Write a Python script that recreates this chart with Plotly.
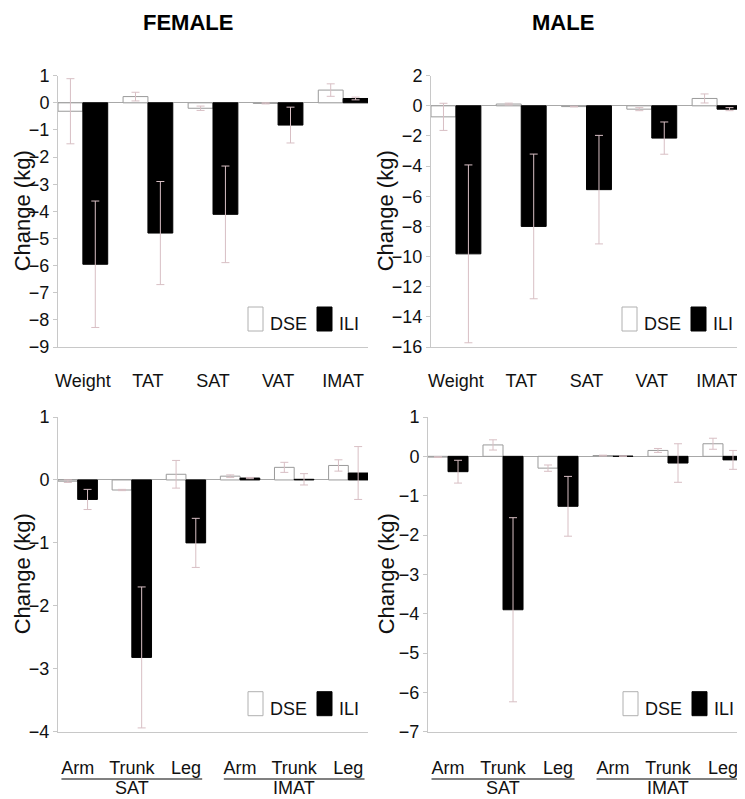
import plotly.graph_objects as go

# the page body adds an 8px margin, so page pixels are mapped into the figure with OFF
OFF = 8
W, H = 745 - OFF, 799 - OFF
FONT = 'Liberation Sans, Arial, sans-serif'
ERR_COLOR = '#d8bfc4'
AXIS_COLOR = '#c8c8c8'

# top panels: whole-body compartments
cats = ['Weight', 'TAT', 'SAT', 'VAT', 'IMAT']
f_dse = [-0.31, 0.23, -0.2, -0.02, 0.47]
f_dse_err = [1.2, 0.16, 0.08, 0.02, 0.23]
f_ili = [-5.95, -4.8, -4.11, -0.82, 0.16]
f_ili_err = [2.33, 1.9, 1.78, 0.66, 0.05]

m_dse = [-0.73, 0.12, -0.05, -0.22, 0.49]
m_dse_err = [0.9, 0.06, 0.02, 0.1, 0.3]
m_ili = [-9.82, -8.0, -5.56, -2.14, -0.22]
m_ili_err = [5.9, 4.8, 3.6, 1.07, 0.1]

# bottom panels: regional depots
groups = ['SAT', 'SAT', 'SAT', 'IMAT', 'IMAT', 'IMAT']
regions = ['Arm', 'Trunk', 'Leg', 'Arm', 'Trunk', 'Leg']
reg_keys = [g + ' ' + r for g, r in zip(groups, regions)]

f_reg_dse = [-0.02, -0.16, 0.09, 0.06, 0.2, 0.23]
f_reg_dse_err = [0.02, 0.01, 0.22, 0.02, 0.08, 0.09]
f_reg_ili = [-0.31, -2.82, -1.0, 0.03, 0.01, 0.11]
f_reg_ili_err = [0.16, 1.12, 0.39, 0.01, 0.09, 0.42]

m_reg_dse = [-0.02, 0.29, -0.3, 0.02, 0.15, 0.32]
m_reg_dse_err = [0.01, 0.13, 0.08, 0.01, 0.05, 0.14]
m_reg_ili = [-0.39, -3.9, -1.27, 0.005, -0.17, -0.09]
m_reg_ili_err = [0.29, 2.34, 0.76, 0.0, 0.49, 0.24]


def px(x):
    return (x - OFF) / W


def py(y):
    return 1 - (y - OFF) / H


# panel boxes in page pixels: left, right, top, bottom
panels = {
    1: (58, 368, 75.7, 347),
    2: (431, 742, 75.7, 347),
    3: (58, 368, 417, 731.7),
    4: (428, 743, 417, 731.7),
}
# x centre of the rotated "Change (kg)" title for each panel
ytitle_x = {1: 22, 2: 385, 3: 22, 4: 386}
# half of the DSE+ILI pair width, in category units
half = {1: 0.382, 2: 0.382, 3: 0.364, 4: 0.364}


def add_pair(fig, n, x, dse, dse_err, ili, ili_err):
    xa = 'x' if n == 1 else f'x{n}'
    ya = 'y' if n == 1 else f'y{n}'
    w = half[n]
    fig.add_trace(go.Bar(x=x, y=dse, name='DSE', xaxis=xa, yaxis=ya, width=w, offset=-w,
                         marker=dict(color='white', line=dict(color='#9a9a9a', width=1)),
                         error_y=dict(type='data', array=dse_err, color=ERR_COLOR, thickness=1, width=4),
                         showlegend=False))
    fig.add_trace(go.Bar(x=x, y=ili, name='ILI', xaxis=xa, yaxis=ya, width=w, offset=0,
                         marker=dict(color='black', line=dict(color='black', width=1)),
                         error_y=dict(type='data', array=ili_err, color=ERR_COLOR, thickness=1, width=4),
                         showlegend=False))


fig = go.Figure()
add_pair(fig, 1, cats, f_dse, f_dse_err, f_ili, f_ili_err)
add_pair(fig, 2, cats, m_dse, m_dse_err, m_ili, m_ili_err)
add_pair(fig, 3, reg_keys, f_reg_dse, f_reg_dse_err, f_reg_ili, f_reg_ili_err)
add_pair(fig, 4, reg_keys, m_reg_dse, m_reg_dse_err, m_reg_ili, m_reg_ili_err)

yranges = {1: ([-9, 1], 1), 2: ([-16, 2], 2), 3: ([-4, 1], 1), 4: ([-7, 1], 1)}

layout = dict(width=W, height=H, margin=dict(l=0, r=0, t=0, b=0),
              paper_bgcolor='white', plot_bgcolor='white',
              font=dict(family=FONT, color='#111111'),
              barmode='overlay', showlegend=False)

for n, (l, r, t, b) in panels.items():
    sx = '' if n == 1 else str(n)
    top_row = n in (1, 2)
    xax = dict(domain=[px(l), px(r)], anchor='y' + sx, automargin=False,
               showline=True, linecolor=AXIS_COLOR, linewidth=1,
               showgrid=False, zeroline=False, ticks='',
               tickfont=dict(size=18), ticklabelstandoff=17 if top_row else 20)
    if top_row:
        xax['range'] = [-0.382, 4.382]
    else:
        xax['range'] = [-0.364, 5.364]
        xax['tickmode'] = 'array'
        xax['tickvals'] = reg_keys
        xax['ticktext'] = regions
    rng, dt = yranges[n]
    yax = dict(domain=[py(b), py(t)], anchor='x' + sx, range=rng, dtick=dt,
               automargin=False,
               showline=True, linecolor=AXIS_COLOR, linewidth=1,
               ticks='outside', ticklen=4, tickcolor=AXIS_COLOR,
               showgrid=False, zeroline=True, zerolinecolor='#a8a8a8', zerolinewidth=1,
               tickfont=dict(size=18))
    layout['xaxis' + sx] = xax
    layout['yaxis' + sx] = yax

fig.update_layout(**layout)

# y titles, placed explicitly so they sit clear of the tick labels
for n, (l, r, t, b) in panels.items():
    fig.add_annotation(text='Change (kg)', textangle=-90, xref='paper', yref='paper',
                       x=px(ytitle_x[n]), y=py((t + b) / 2), xanchor='center', yanchor='middle',
                       showarrow=False, font=dict(size=22, color='#111111'))

# sex titles
for label, cx in [('FEMALE', 187.5), ('MALE', 563)]:
    fig.add_annotation(text=f'<b>{label}</b>', x=px(cx), y=py(22), xref='paper', yref='paper',
                       xanchor='center', yanchor='middle', showarrow=False,
                       font=dict(size=22, color='black'))

# legends drawn per panel (box + label)
for n, (l, r, t, b) in panels.items():
    boxes = [('DSE', r - 120, r - 105, 'white', '#b0b0b0'),
             ('ILI', r - 51, r - 36, 'black', 'black')]
    for name, x0, x1, fill, line in boxes:
        fig.add_shape(type='rect', xref='paper', yref='paper',
                      x0=px(x0), x1=px(x1), y0=py(b - 16), y1=py(b - 40),
                      fillcolor=fill, line=dict(color=line, width=1))
        fig.add_annotation(text=name, xref='paper', yref='paper', x=px(x1 + 5), y=py(b - 23),
                           xanchor='left', yanchor='middle', showarrow=False,
                           font=dict(size=18, color='#111111'))

# group labels and underlines under the regional panels
for n in (3, 4):
    xa = f'x{n}'
    for g, lo, hi, mid in [('SAT', -0.3, 2.3, reg_keys[1]), ('IMAT', 2.7, 5.3, reg_keys[4])]:
        fig.add_shape(type='line', xref=xa, yref='paper', x0=lo, x1=hi,
                      y0=py(779), y1=py(779), line=dict(color='#808080', width=2))
        fig.add_annotation(text=g, xref=xa, yref='paper', x=mid, y=py(788),
                           xanchor='center', yanchor='middle', showarrow=False,
                           font=dict(size=18, color='#111111'))

fig.write_html('out.html')
